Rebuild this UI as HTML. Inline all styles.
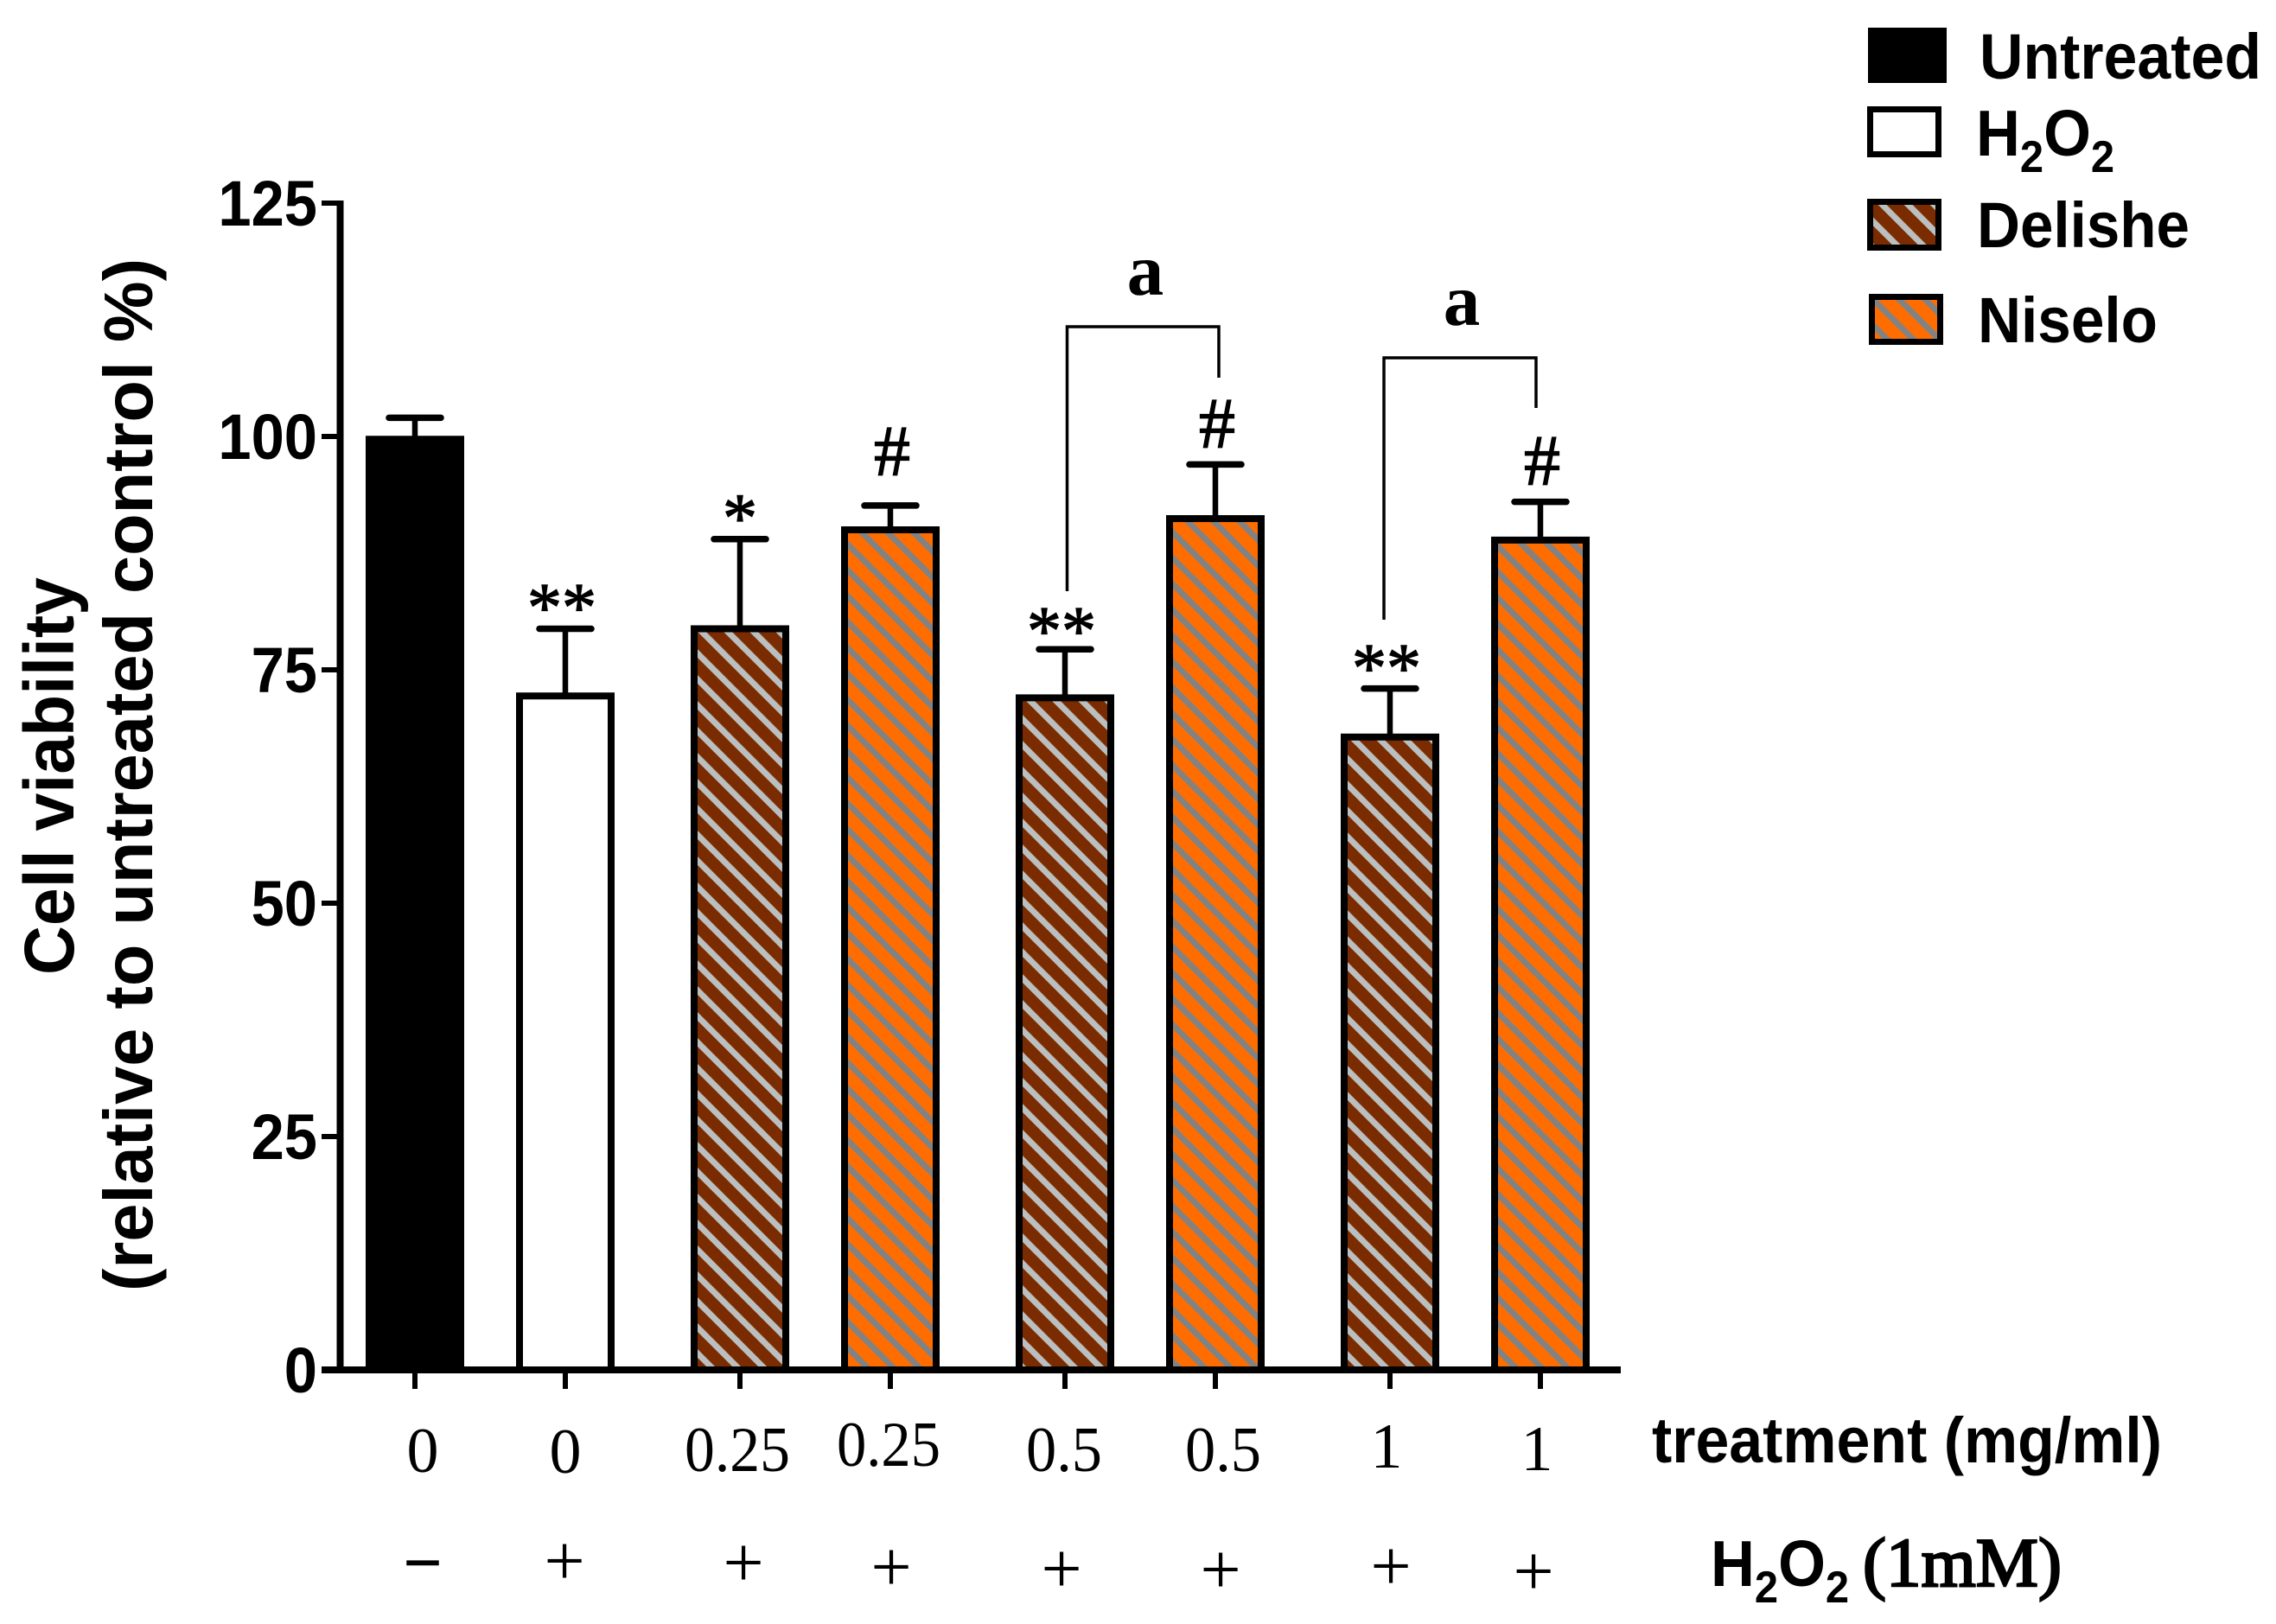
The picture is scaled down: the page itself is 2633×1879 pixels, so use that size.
<!DOCTYPE html>
<html lang="en">
<head>
<meta charset="utf-8">
<title>Cell viability chart</title>
<style>
html,body{margin:0;padding:0;background:#fff;}
svg{display:block;}
.sans{font-family:"Liberation Sans",sans-serif;font-weight:bold;fill:#000;}
.serif{font-family:"Liberation Serif",serif;fill:#000;}
</style>
</head>
<body>
<svg id="chart" xmlns="http://www.w3.org/2000/svg" width="2633" height="1879" viewBox="0 0 2633 1879">
  <defs>
    <pattern id="hatch-delishe" patternUnits="userSpaceOnUse" width="21.21" height="21.21" patternTransform="translate(16 0) rotate(-45)">
      <rect width="21.21" height="21.21" fill="#7a2c00"/>
      <rect width="7" height="21.21" fill="#bcbfbf"/>
    </pattern>
    <pattern id="hatch-niselo" patternUnits="userSpaceOnUse" width="21.21" height="21.21" patternTransform="translate(16 0) rotate(-45)">
      <rect width="21.21" height="21.21" fill="#ff6d00"/>
      <rect width="7" height="21.21" fill="#828282"/>
    </pattern>
  </defs>
  <rect width="2633" height="1879" fill="#fff"/>

  <g id="marks"></g>
  <g id="annotations"></g>
  <g id="axes"></g>

  <g>
    <text class="sans" transform="translate(85 1128) rotate(-90)" font-size="82" textLength="460" lengthAdjust="spacingAndGlyphs">Cell viability</text>
    <text class="sans" transform="translate(176 1494) rotate(-90)" font-size="80" textLength="1195" lengthAdjust="spacingAndGlyphs">(relative to untreated control %)</text>
  </g>

  <g font-size="74" text-anchor="middle">
    <text class="serif" x="489" y="1703">0</text>
    <text class="serif" x="654" y="1704">0</text>
    <text class="serif" x="853" y="1702" textLength="122" lengthAdjust="spacingAndGlyphs">0.25</text>
    <text class="serif" x="1028" y="1696" textLength="120" lengthAdjust="spacingAndGlyphs">0.25</text>
    <text class="serif" x="1231" y="1702" textLength="88" lengthAdjust="spacingAndGlyphs">0.5</text>
    <text class="serif" x="1415" y="1702" textLength="88" lengthAdjust="spacingAndGlyphs">0.5</text>
    <text class="serif" x="1604" y="1698">1</text>
    <text class="serif" x="1778" y="1701">1</text>
  </g>
  <text class="sans" x="1911" y="1692" font-size="74" textLength="590" lengthAdjust="spacingAndGlyphs">treatment (mg/ml)</text>

  <g font-size="84" text-anchor="middle">
    <text class="serif" x="489" y="1824" font-size="68" stroke="#000" stroke-width="2.5">–</text>
    <text class="serif" x="653" y="1834">+</text>
    <text class="serif" x="860" y="1836">+</text>
    <text class="serif" x="1031" y="1841">+</text>
    <text class="serif" x="1228" y="1843">+</text>
    <text class="serif" x="1412" y="1844">+</text>
    <text class="serif" x="1609" y="1840">+</text>
    <text class="serif" x="1774" y="1846">+</text>
  </g>
  <g>
    <text class="sans" transform="translate(1979 1835) scale(.94 1)" font-size="75">H<tspan font-size="52" dy="19">2</tspan><tspan dy="-19">O</tspan><tspan font-size="52" dy="19">2</tspan></text>
    <text class="serif" x="2155" y="1835" font-size="80" stroke="#000" stroke-width="2.5" textLength="230" lengthAdjust="spacingAndGlyphs">(1mM)</text>
  </g>

  <g>
    <path d="M1234.5 684V378H1410V437" fill="none" stroke="#000" stroke-width="3.5"/>
    <text class="serif" x="1325" y="341" font-size="85" font-weight="bold" text-anchor="middle">a</text>
  </g>
  <g>
    <path d="M1601 717V414H1777V472" fill="none" stroke="#000" stroke-width="3.5"/>
    <text class="serif" x="1691" y="376" font-size="85" font-weight="bold" text-anchor="middle">a</text>
  </g>

  <g>
    <g>
      <rect x="2161" y="32" width="91" height="64" fill="#000"/>
      <text class="sans" x="2290" y="91" font-size="74" textLength="326" lengthAdjust="spacingAndGlyphs">Untreated</text>
    </g>
    <g>
      <rect x="2163.5" y="126.5" width="79" height="52" fill="#fff" stroke="#000" stroke-width="7"/>
      <text class="sans" transform="translate(2286 180) scale(.94 1)" font-size="75">H<tspan font-size="52" dy="19">2</tspan><tspan dy="-19">O</tspan><tspan font-size="52" dy="19">2</tspan></text>
    </g>
    <g>
      <rect x="2163.5" y="233.5" width="79" height="53" fill="url(#hatch-delishe)" stroke="#000" stroke-width="7"/>
      <text class="sans" x="2287" y="286" font-size="74" textLength="246" lengthAdjust="spacingAndGlyphs">Delishe</text>
    </g>
    <g>
      <rect x="2165.5" y="343.5" width="79" height="52" fill="url(#hatch-niselo)" stroke="#000" stroke-width="7"/>
      <text class="sans" x="2288" y="396" font-size="74" textLength="208" lengthAdjust="spacingAndGlyphs">Niselo</text>
    </g>
  </g>
</svg>

<script>
// Chart data
var categories = ['control', 'h2o2', 'delishe-0.25', 'niselo-0.25', 'delishe-0.5', 'niselo-0.5', 'delishe-1', 'niselo-1'];
var seriesNames = ['untreated', 'h2o2', 'delishe', 'niselo', 'delishe', 'niselo', 'delishe', 'niselo'];
var viabilityValues = [99.7, 72.2, 79.4, 90, 72, 91.2, 67.8, 88.9];
var errorTopValues = [102, 79.4, 89, 92.6, 77.2, 97, 73, 93];
var significanceMarks = ['', '**', '*', '#', '**', '#', '**', '#'];
var significanceLift = [0, 0, 0, 3.4, -0.3, 2, -0.1, 2];
var yTickValues = [0, 25, 50, 75, 100, 125];

var fills = { untreated: '#000', h2o2: '#fff', delishe: 'url(#hatch-delishe)', niselo: 'url(#hatch-niselo)' };
var NS = 'http://www.w3.org/2000/svg';

function yScale(v) { return 1585 - v * 10.8; }
function xScale(i) { return 480 + 174 * i + 28 * Math.floor(i / 2); }

function make(tag, parent, attrs) {
  var el = document.createElementNS(NS, tag);
  for (var k in attrs) el.setAttribute(k, attrs[k]);
  parent.appendChild(el);
  return el;
}

var marks = document.getElementById('marks');
var annotations = document.getElementById('annotations');
var axes = document.getElementById('axes');

categories.forEach(function (cat, i) {
  var cx = xScale(i);
  var top = yScale(viabilityValues[i]);
  var errTop = yScale(errorTopValues[i]);

  var stem = make('line', marks, { x1: cx, x2: cx, y1: errTop, y2: top, stroke: '#000', 'stroke-width': 6.5 });
  
  

  var cap = make('line', marks, { x1: cx - 30, x2: cx + 30, y1: errTop, y2: errTop, stroke: '#000', 'stroke-width': 7.5, 'stroke-linecap': 'round' });
  
  

  var bar = make('rect', marks, { x: cx - 53, y: top, width: 106, height: yScale(0) - top, fill: fills[seriesNames[i]], stroke: '#000', 'stroke-width': 8 });
  
  

  if (significanceMarks[i]) {
    var isHash = significanceMarks[i] === '#';
    var isDouble = significanceMarks[i] === '**';
    var note = make('text', annotations, { x: cx + (isDouble ? -4 : (isHash ? 2 : 0)), y: errTop + 2 - significanceLift[i] * 10.8, 'text-anchor': 'middle', 'font-size': isHash ? 84 : 80, stroke: '#000', 'stroke-width': 1.3, 'class': 'serif' });
    note.textContent = significanceMarks[i];
    
    
  }

  var tick = make('line', axes, { x1: cx, x2: cx, y1: yScale(0), y2: 1607, stroke: '#000', 'stroke-width': 6 });
  
  
});

var yAxis = make('line', axes, { x1: 393.5, x2: 393.5, y1: yScale(125) - 3, y2: yScale(0) + 4, stroke: '#000', 'stroke-width': 8 });



var xAxis = make('line', axes, { x1: 372, x2: 1875, y1: yScale(0), y2: yScale(0), stroke: '#000', 'stroke-width': 8 });



yTickValues.forEach(function (v) {
  var t = make('line', axes, { x1: 372, x2: 393, y1: yScale(v), y2: yScale(v), stroke: '#000', 'stroke-width': 6 });
  
  

  var text = String(v);
  var label = make('text', axes, { x: 367, y: yScale(v) + 26, 'text-anchor': 'end', 'font-size': 74, 'textLength': 38.2 * text.length, 'lengthAdjust': 'spacingAndGlyphs', 'class': 'sans' });
  label.textContent = text;
  
  
});
</script>
</body>
</html>
